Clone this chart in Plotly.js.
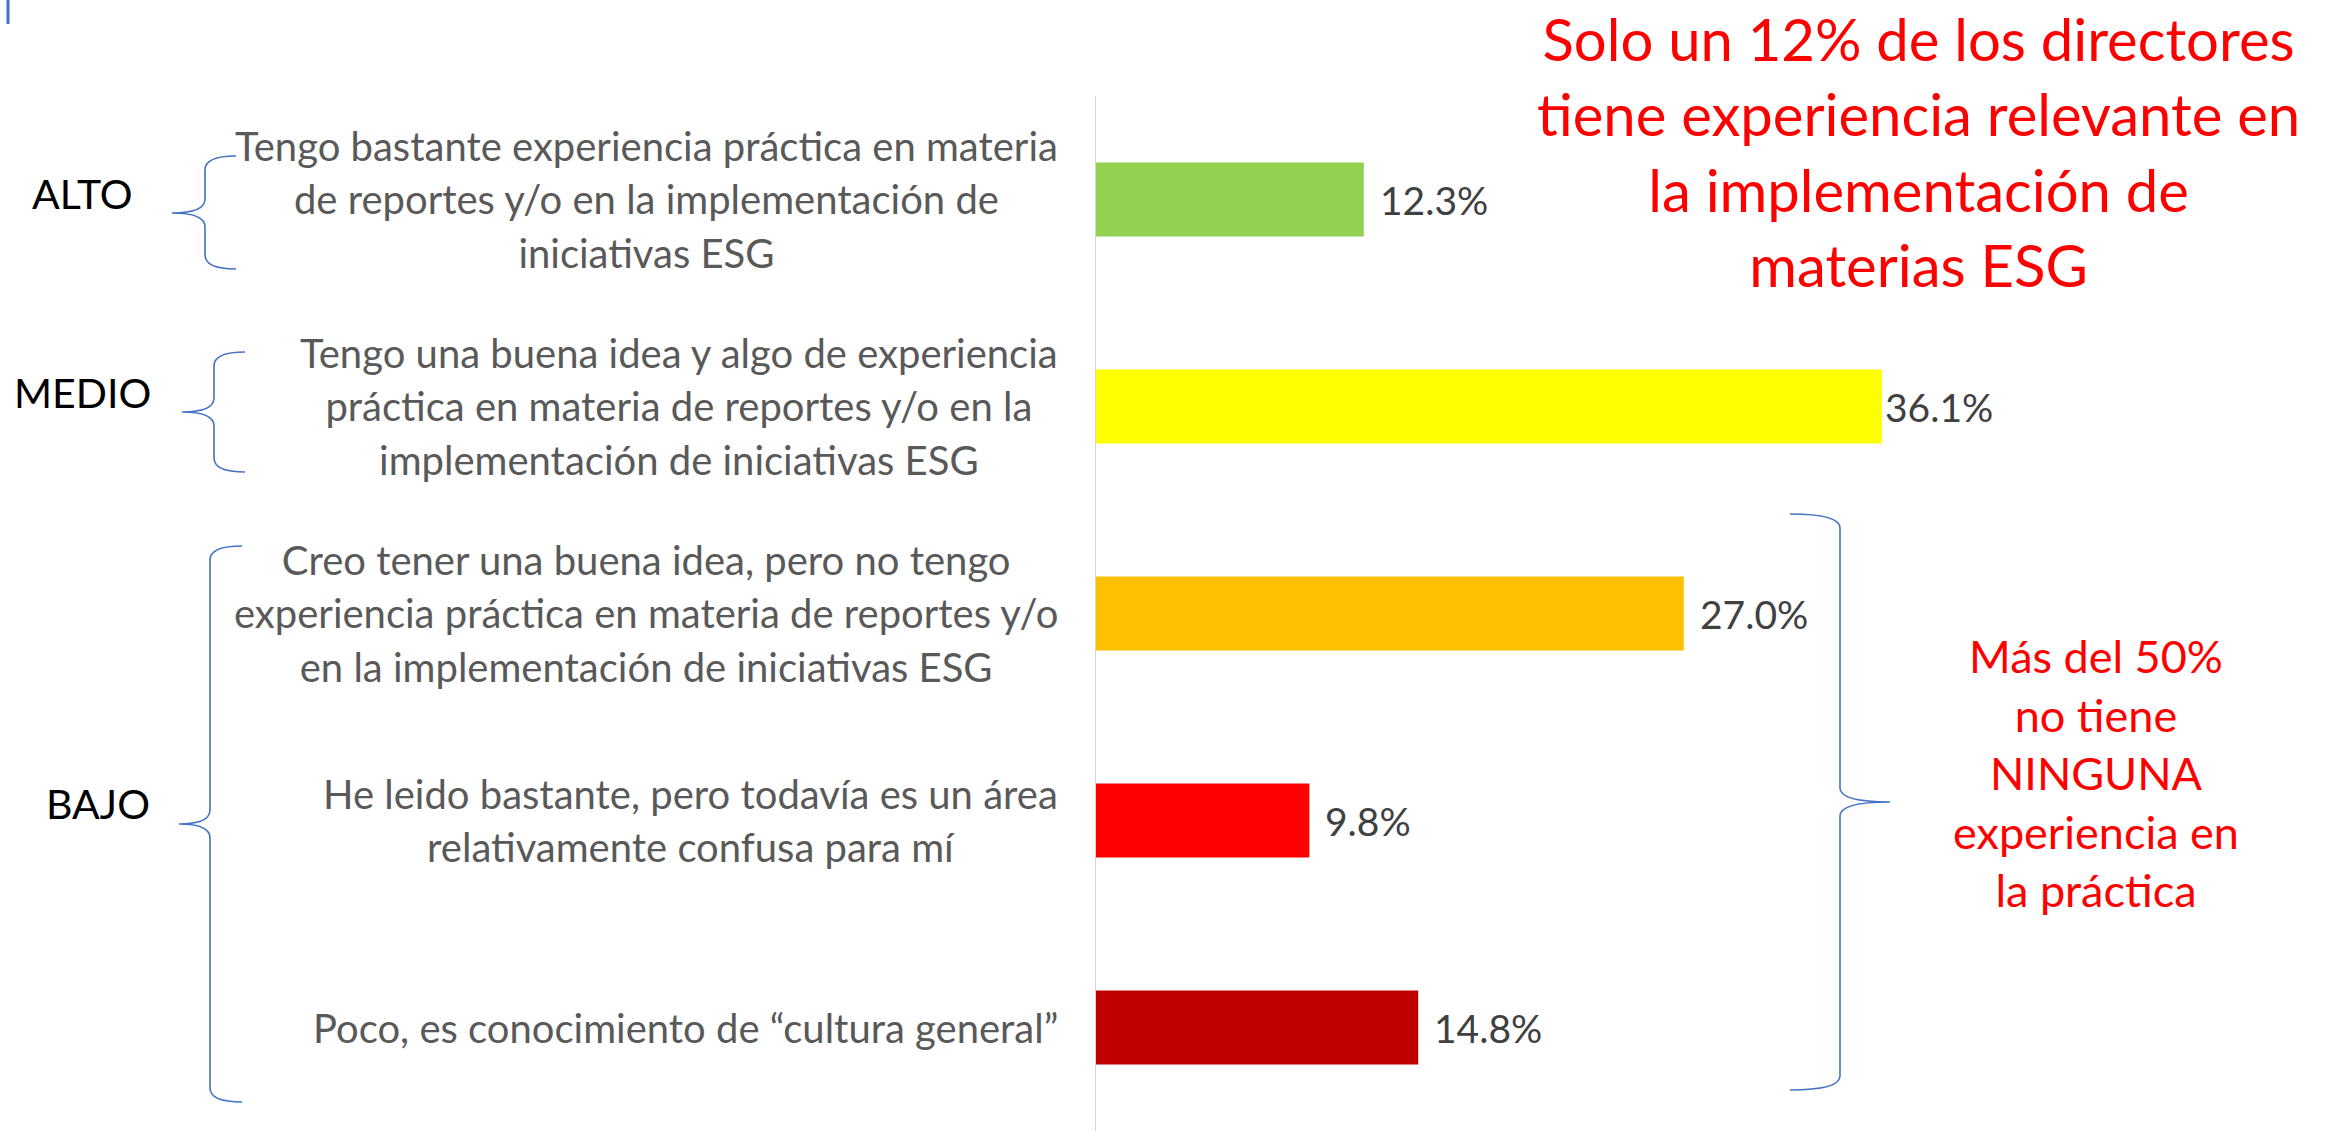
<!DOCTYPE html>
<html>
<head>
<meta charset="utf-8">
<script src="https://cdn.plot.ly/plotly-3.0.1.min.js"></script>
<style>
  html, body { margin: 0; padding: 0; background: #fff; }
  #plotArea { width: 2325px; height: 1131px; }
</style>
</head>
<body>
<div id="plotArea"></div>
<script>
// answers, top to bottom
var answers = [
  "Tengo bastante experiencia práctica en materia<br>de reportes y/o en la implementación de<br>iniciativas ESG",
  "Tengo una buena idea y algo de experiencia<br>práctica en materia de reportes y/o en la<br>implementación de iniciativas ESG",
  "Creo tener una buena idea, pero no tengo<br>experiencia práctica en materia de reportes y/o<br>en la implementación de iniciativas ESG",
  "He leido bastante, pero todavía es un área<br>relativamente confusa para mí",
  "Poco, es conocimiento de “cultura general”"
];
var shares = [12.3, 36.1, 27.0, 9.8, 14.8];
var barColors = ["#92d050", "#ffff00", "#ffc000", "#ff0000", "#c00000"];
var levels = ["ALTO", "MEDIO", "BAJO"];
var headline = "Solo un 12% de los directores<br>tiene experiencia relevante en<br>la implementación de<br>materias ESG";
var sideNote = "Más del 50%<br>no tiene<br>NINGUNA<br>experiencia en<br>la práctica";

// page geometry (pixels)
var W = 2325, H = 1131, L = 1096, T = 96;
var PW = W - L, PH = H - T;
function px(x) { return (x - L) / PW; }
function py(y) { return 1 - (y - T) / PH; }

var font = "Lato, 'Open Sans', sans-serif";
var blue = "#4472c4";

var trace = {
  type: "bar",
  orientation: "h",
  x: shares,
  y: answers,
  marker: {color: barColors},
  hoverinfo: "x"
};

var annotations = [];

// answer texts (centered lines, right edge next to the axis)
answers.forEach(function (a) {
  annotations.push({
    xref: "paper", yref: "y", x: px(1060), y: a,
    xanchor: "right", yanchor: "middle", align: "center",
    text: '<span style="font-size:40px">' + a + '</span>',
    showarrow: false,
    font: {family: font, size: 41, color: "#595959"}
  });
});

// value labels
var labelShift = [14, 1, 14, 14, 14];
shares.forEach(function (v, i) {
  annotations.push({
    xref: "x", yref: "y", x: v, y: answers[i],
    xanchor: "left", yanchor: "middle", xshift: labelShift[i],
    text: v.toFixed(1) + "%",
    showarrow: false,
    font: {family: font, size: 39, color: "#404040"}
  });
});

// level names
var levelPos = [[82, 193], [83, 392], [98, 803]];
levels.forEach(function (lv, i) {
  annotations.push({
    xref: "paper", yref: "paper", x: px(levelPos[i][0]), y: py(levelPos[i][1]),
    xanchor: "center", yanchor: "middle",
    text: lv, showarrow: false,
    font: {family: font, size: 41, color: "#000000"}
  });
});

annotations.push({
  xref: "paper", yref: "paper", x: px(1918), y: py(151),
  xanchor: "center", yanchor: "middle", align: "center",
  text: headline,
  showarrow: false,
  font: {family: font, size: 58, color: "#ff0000"}
});

annotations.push({
  xref: "paper", yref: "paper", x: px(2096), y: py(773),
  xanchor: "center", yanchor: "middle", align: "center",
  text: sideNote,
  showarrow: false,
  font: {family: font, size: 45, color: "#ff0000"}
});

// curly braces
function brace(top, bottom, spine, tipX, tipY, hook) {
  var r = 14;
  var d = "M" + px(hook) + "," + py(top) +
    " Q" + px(spine) + "," + py(top) + " " + px(spine) + "," + py(top + r) +
    " L" + px(spine) + "," + py(tipY - r) +
    " Q" + px(spine) + "," + py(tipY) + " " + px(tipX) + "," + py(tipY) +
    " Q" + px(spine) + "," + py(tipY) + " " + px(spine) + "," + py(tipY + r) +
    " L" + px(spine) + "," + py(bottom - r) +
    " Q" + px(spine) + "," + py(bottom) + " " + px(hook) + "," + py(bottom);
  return {type: "path", xref: "paper", yref: "paper", path: d,
          line: {color: blue, width: 1.6}};
}

var shapes = [
  brace(156, 269, 205, 172, 213, 236),
  brace(352, 472, 214, 182, 412, 245),
  brace(546, 1102, 210, 179, 824, 242),
  brace(514, 1090, 1840, 1890, 802, 1790),
  {type: "line", xref: "paper", yref: "paper",
   x0: px(8), x1: px(8), y0: py(0), y1: py(24),
   line: {color: blue, width: 3}}
];

var layout = {
  width: W,
  height: H,
  margin: {l: L, r: 0, t: T, b: 0},
  paper_bgcolor: "#ffffff",
  plot_bgcolor: "#ffffff",
  showlegend: false,
  bargap: 0.643,
  xaxis: {range: [0, PW / 21.77], visible: false, fixedrange: true},
  yaxis: {
    autorange: "reversed",
    showticklabels: false,
    ticks: "",
    showgrid: false,
    zeroline: false,
    showline: true,
    linecolor: "#d9d9d9",
    linewidth: 1.5,
    fixedrange: true
  },
  annotations: annotations,
  shapes: shapes
};

Plotly.newPlot("plotArea", [trace], layout, {displayModeBar: false, staticPlot: true});
</script>
</body>
</html>
